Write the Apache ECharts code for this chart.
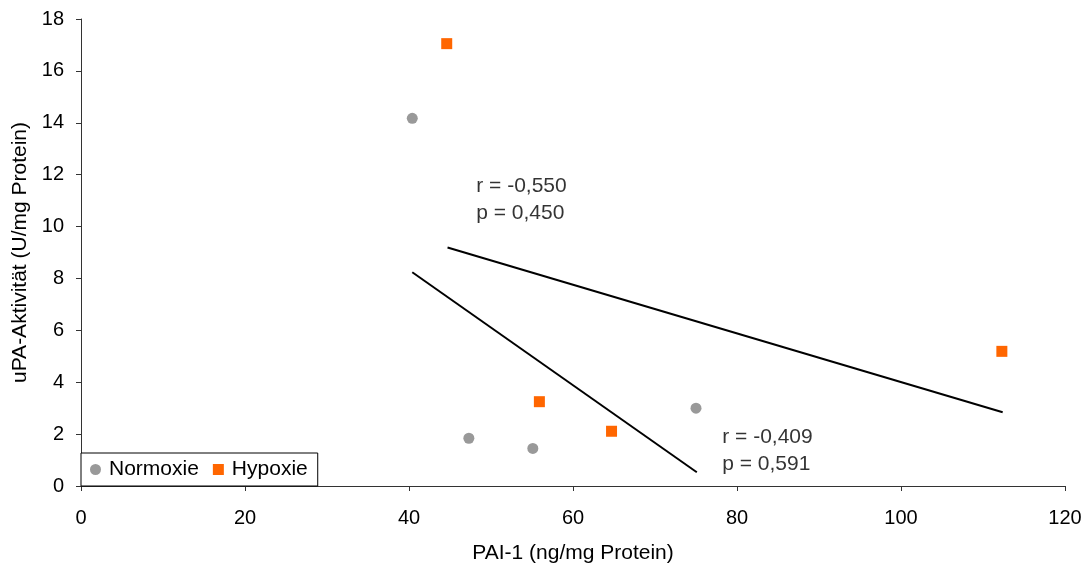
<!DOCTYPE html>
<html>
<head>
<meta charset="utf-8">
<script src="https://cdn.jsdelivr.net/npm/echarts@6/dist/echarts.min.js"></script>
<style>html,body{margin:0;padding:0;background:#fff;}#c{width:1090px;height:571px;}</style>
</head>
<body>
<div id="c"></div>
<script>
const normoxieX = [40.4, 47.3, 55.1, 75.0];
const normoxieY = [14.17, 1.84, 1.45, 3.0];
const hypoxieX = [44.6, 55.9, 64.7, 112.3];
const hypoxieY = [17.05, 3.25, 2.11, 5.19];
const trendNormX = [40.4, 75.1];
const trendNormY = [8.24, 0.53];
const trendHypX = [44.7, 112.4];
const trendHypY = [9.19, 2.84];
const annotText = ['r = -0,550\np = 0,450', 'r = -0,409\np = 0,591'];
const annotX = [48.2, 78.2];
const annotY = [11.04, 1.37];
const xTicks = [0, 20, 40, 60, 80, 100, 120];
const yTicks = [0, 2, 4, 6, 8, 10, 12, 14, 16, 18];

const zip = (a, b) => a.map((v, i) => [v, b[i]]);
const font = 'Liberation Sans, Arial, sans-serif';

const chart = echarts.init(document.getElementById('c'));
chart.setOption({
  animation: false,
  backgroundColor: '#fff',
  grid: { left: 81, right: 25, top: 19, bottom: 85 },
  xAxis: {
    type: 'value', min: xTicks[0], max: xTicks[xTicks.length - 1], interval: 20,
    name: 'PAI-1 (ng/mg Protein)', nameLocation: 'middle', nameGap: 57,
    nameTextStyle: { fontFamily: font, fontSize: 21, color: '#000' },
    axisLine: { show: true, lineStyle: { color: '#333', width: 1 } },
    axisTick: { show: true, length: 5, lineStyle: { color: '#333' } },
    axisLabel: { margin: 22, fontFamily: font, fontSize: 20, color: '#000' },
    splitLine: { show: false }
  },
  yAxis: {
    type: 'value', min: yTicks[0], max: yTicks[yTicks.length - 1], interval: 2,
    name: 'uPA-Aktivität (U/mg Protein)', nameLocation: 'middle', nameGap: 50,
    nameTextStyle: { fontFamily: font, fontSize: 21, color: '#000' },
    axisLine: { show: true, lineStyle: { color: '#333', width: 1 } },
    axisTick: { show: true, length: 5, lineStyle: { color: '#333' } },
    axisLabel: { margin: 17, fontFamily: font, fontSize: 20, color: '#000' },
    splitLine: { show: false }
  },
  legend: {
    left: 81, bottom: 85, orient: 'horizontal',
    data: [
      { name: 'Normoxie', icon: 'circle' },
      { name: 'Hypoxie', icon: 'rect' }
    ],
    borderColor: '#000', borderWidth: 1, backgroundColor: '#fff',
    padding: [6, 10, 6, 9], itemWidth: 11, itemHeight: 11, itemGap: 14,
    textStyle: { fontFamily: font, fontSize: 21, color: '#000', padding: [0, 0, 0, 3] }
  },
  series: [
    {
      name: 'Normoxie', type: 'scatter', symbol: 'circle', symbolSize: 11,
      itemStyle: { color: '#999999', opacity: 1 }, data: zip(normoxieX, normoxieY), z: 3
    },
    {
      name: 'Hypoxie', type: 'scatter', symbol: 'rect', symbolSize: 11,
      itemStyle: { color: '#ff6600', opacity: 1 }, data: zip(hypoxieX, hypoxieY), z: 3
    },
    {
      name: 'trendN', type: 'line', data: zip(trendNormX, trendNormY), symbol: 'none',
      lineStyle: { color: '#000', width: 2 }, silent: true
    },
    {
      name: 'trendH', type: 'line', data: zip(trendHypX, trendHypY), symbol: 'none',
      lineStyle: { color: '#000', width: 2 }, silent: true
    },
    {
      name: 'annot', type: 'scatter', symbolSize: 0, silent: true,
      data: annotX.map((x, i) => ({ value: [x, annotY[i]], label: { formatter: annotText[i] } })),
      label: { show: true, position: 'right', distance: 0, fontFamily: font, fontSize: 21, color: '#000', lineHeight: 27, align: 'left' }
    }
  ]
});
</script>
</body>
</html>
